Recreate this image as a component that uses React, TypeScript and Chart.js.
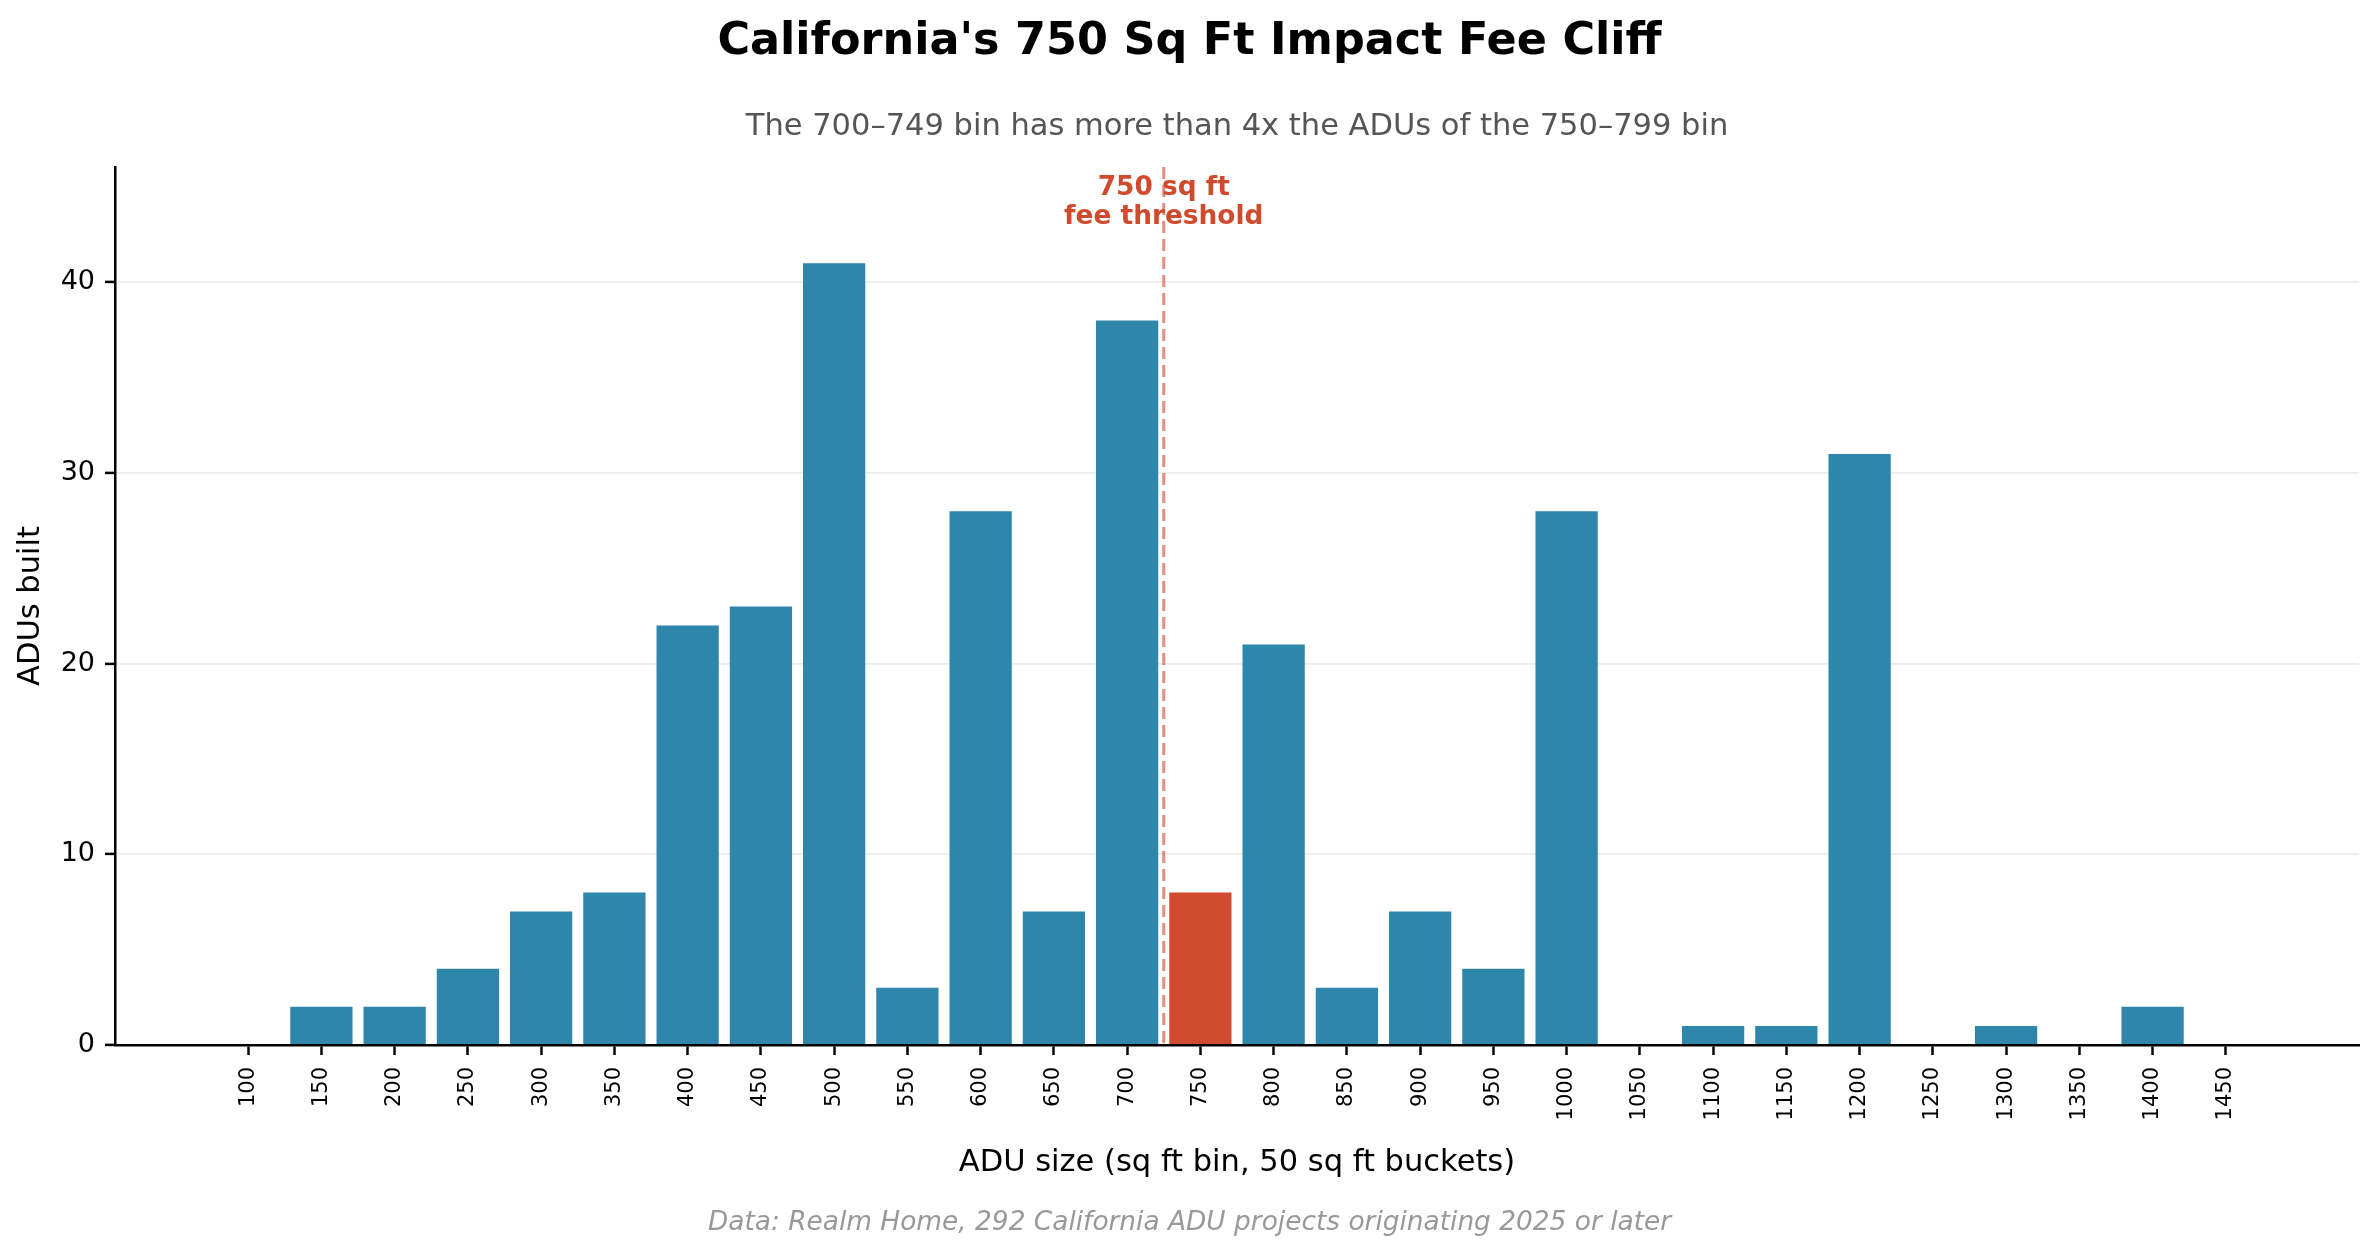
import { useEffect, useRef } from "react";
import { Chart, registerables } from "chart.js";
import type { Plugin } from "chart.js";

Chart.register(...registerables);

// 50 sq ft bins (lower edge of each bucket)
const BIN_STARTS = [
  100, 150, 200, 250, 300, 350, 400, 450, 500, 550, 600, 650, 700, 750,
  800, 850, 900, 950, 1000, 1050, 1100, 1150, 1200, 1250, 1300, 1350, 1400, 1450,
];
const ADU_COUNTS = [
  0, 2, 2, 4, 7, 8, 22, 23, 41, 3, 28, 7, 38, 8,
  21, 3, 7, 4, 28, 0, 1, 1, 31, 0, 1, 0, 2, 0,
];
const Y_TICKS = [0, 10, 20, 30, 40];
const THRESHOLD_BIN = 750;
const THRESHOLD_LINE = 725;
const ANNOTATION_LINES = ["750 sq ft", "fee threshold"];

const TITLE = "California's 750 Sq Ft Impact Fee Cliff";
const SUBTITLE = "The 700\u2013749 bin has more than 4x the ADUs of the 750\u2013799 bin";
const FOOTER = "Data: Realm Home, 292 California ADU projects originating 2025 or later";

const BLUE = "#2e86ab";
const RED = "#d04a2e";
const FONT = "'DejaVu Sans', sans-serif";

const W = 2379;
const H = 1258;

const textPlugin: Plugin<"bar"> = {
  id: "textOverlay",
  afterDraw(chart) {
    const { ctx, chartArea, scales } = chart;
    ctx.save();
    ctx.textAlign = "center";
    ctx.textBaseline = "alphabetic";

    ctx.fillStyle = "#000";
    ctx.font = `bold 44.5px ${FONT}`;
    ctx.fillText(TITLE, W / 2, 54);

    ctx.fillStyle = "#555555";
    ctx.font = `30.5px ${FONT}`;
    ctx.fillText(SUBTITLE, (chartArea.left + chartArea.right) / 2, 135);

    ctx.fillStyle = "#999999";
    ctx.font = `italic 26.4px ${FONT}`;
    ctx.fillText(FOOTER, W / 2, 1230);

    // threshold annotation
    const x = scales.x.getPixelForValue(THRESHOLD_LINE);
    ctx.fillStyle = RED;
    ctx.font = `bold 26.4px ${FONT}`;
    ANNOTATION_LINES.forEach((line, i) => {
      ctx.fillText(line, x, 195 + i * 29);
    });

    ctx.strokeStyle = "rgba(208, 74, 46, 0.62)";
    ctx.lineWidth = 3;
    ctx.setLineDash([12, 6]);
    ctx.beginPath();
    ctx.moveTo(x, chartArea.top);
    ctx.lineTo(x, chartArea.bottom);
    ctx.stroke();
    ctx.restore();
  },
};

export default function App() {
  const canvasRef = useRef<HTMLCanvasElement>(null);
  const chartRef = useRef<Chart<"bar"> | null>(null);

  useEffect(() => {
    document.body.style.margin = "0";
    document.body.style.overflow = "hidden";
    if (!canvasRef.current) return;
    if (chartRef.current) chartRef.current.destroy();

    const points = BIN_STARTS.map((b, i) => ({ x: b, y: ADU_COUNTS[i] }));

    chartRef.current = new Chart(canvasRef.current, {
      type: "bar",
      data: {
        datasets: [
          {
            data: points as any,
            backgroundColor: BIN_STARTS.map((b) => (b === THRESHOLD_BIN ? RED : BLUE)),
            barPercentage: 0.85,
            categoryPercentage: 1,
            borderWidth: 0,
          },
        ],
      },
      options: {
        responsive: false,
        devicePixelRatio: 1,
        animation: false,
        layout: { padding: { top: 167, right: 20, bottom: 0, left: 0 } },
        plugins: {
          legend: { display: false },
          title: { display: false },
          tooltip: { enabled: false },
        },
        scales: {
          x: {
            type: "linear",
            min: 9.1,
            max: 1540.9,
            offset: false,
            afterBuildTicks: (scale) => {
              scale.ticks = BIN_STARTS.map((v) => ({ value: v }));
            },
            afterFit: (scale) => {
              scale.height = H - 1045;
            },
            grid: {
              drawOnChartArea: false,
              tickLength: 10,
              tickColor: "#000",
              tickWidth: 2.5,
              offset: false,
            },
            border: { color: "#000", width: 2.5 },
            ticks: {
              autoSkip: false,
              minRotation: 90,
              maxRotation: 90,
              padding: 12,
              color: "#000",
              font: { family: FONT, size: 21 },
              callback: (v) => String(v),
            },
            title: {
              display: true,
              text: "ADU size (sq ft bin, 50 sq ft buckets)",
              color: "#000",
              font: { family: FONT, size: 30.5 },
              padding: { top: 0, bottom: 77 },
            },
          },
          y: {
            min: 0,
            max: 46.05,
            afterBuildTicks: (scale) => {
              scale.ticks = Y_TICKS.map((v) => ({ value: v }));
            },
            afterFit: (scale) => {
              scale.width = 115;
            },
            grid: {
              color: "#ebebeb",
              lineWidth: 1.8,
              tickLength: 10,
              tickColor: "#000",
              tickWidth: 2.5,
            },
            border: { color: "#000", width: 2.5 },
            ticks: {
              padding: 10,
              color: "#000",
              font: { family: FONT, size: 27 },
            },
            title: {
              display: true,
              text: "ADUs built",
              color: "#000",
              font: { family: FONT, size: 30.5 },
              padding: { top: 13, bottom: 0 },
            },
          },
        },
      },
      plugins: [textPlugin],
    });

    return () => {
      if (chartRef.current) {
        chartRef.current.destroy();
        chartRef.current = null;
      }
    };
  }, []);

  return (
    <div style={{ width: W, height: H, background: "#fff" }}>
      <canvas ref={canvasRef} width={W} height={H} />
    </div>
  );
}
